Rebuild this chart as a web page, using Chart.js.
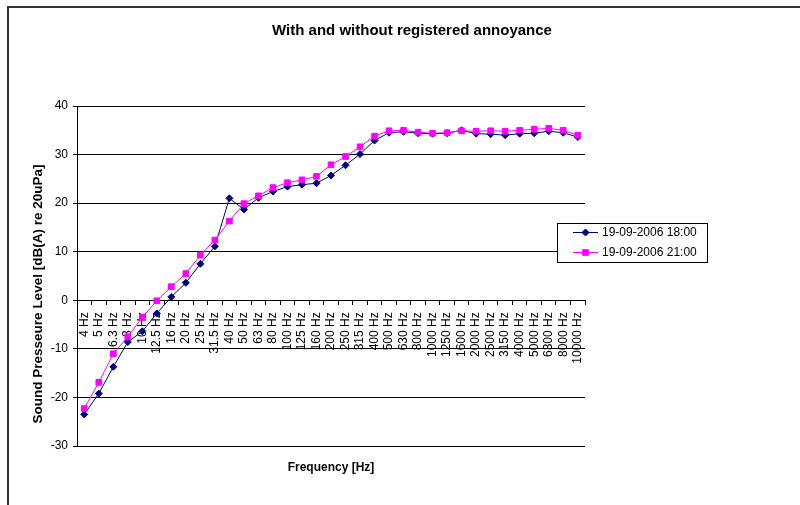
<!DOCTYPE html>
<html>
<head>
<meta charset="utf-8">
<style>
  body { margin: 0; overflow: hidden; background: #fff; }
  #wrap { position: relative; width: 800px; height: 505px; overflow: hidden; }
  canvas { display: block; }
  #frame {
    position: absolute; left: 7px; top: 6px; width: 1000px; height: 1000px;
    border-left: 2px solid #333; border-top: 2px solid #333; pointer-events: none;
  }
</style>
</head>
<body>
<div id="wrap">
  <canvas id="chart" width="824" height="505"></canvas>
  <div id="frame"></div>
</div>

<script src="https://cdn.jsdelivr.net/npm/chart.js"></script>

<script>
  const freqLabels = ['4 Hz', '5 Hz', '6.3 Hz', '8 Hz', '10 Hz', '12.5 Hz', '16 Hz', '20 Hz', '25 Hz', '31.5 Hz',
    '40 Hz', '50 Hz', '63 Hz', '80 Hz', '100 Hz', '125 Hz', '160 Hz', '200 Hz', '250 Hz', '315 Hz',
    '400 Hz', '500 Hz', '630 Hz', '800 Hz', '1000 Hz', '1250 Hz', '1600 Hz', '2000 Hz', '2500 Hz', '3150 Hz',
    '4000 Hz', '5000 Hz', '6300 Hz', '8000 Hz', '10000 Hz'];

  const level1800 = [-23.5, -19.2, -13.7, -8.6, -6.4, -2.7, 0.7, 3.6, 7.5, 11.1,
    21.0, 18.7, 21.1, 22.4, 23.4, 23.8, 24.1, 25.7, 27.8, 30.1,
    32.9, 34.5, 34.7, 34.4, 34.3, 34.4, 35.0, 34.3, 34.2, 34.0,
    34.3, 34.4, 34.8, 34.5, 33.6];

  const level2100 = [-22.3, -16.9, -11.0, -7.5, -3.5, -0.1, 2.8, 5.5, 9.3, 12.4,
    16.3, 19.9, 21.5, 23.2, 24.2, 24.8, 25.5, 27.9, 29.6, 31.6,
    33.8, 34.9, 35.0, 34.6, 34.4, 34.5, 34.9, 34.8, 34.9, 34.8,
    35.0, 35.2, 35.4, 35.0, 34.0];

  const seriesNames = ['19-09-2006 18:00', '19-09-2006 21:00'];
  const yTicks = { min: -30, max: 40, step: 10 };

  const FONT = "'Liberation Sans', Arial, sans-serif";
  Chart.defaults.font.family = FONT;
  Chart.defaults.font.size = 12;
  Chart.defaults.color = '#000';

  // y axis title and the boxed legend sitting over the plot, like the Excel original
  const excelBits = {
    id: 'excelBits',
    afterDraw(chart) {
      const c = chart.ctx;
      c.save();
      c.translate(38, 294);
      c.rotate(-Math.PI / 2);
      c.font = 'bold 13.5px ' + FONT;
      c.fillStyle = '#000';
      c.textAlign = 'center';
      c.textBaseline = 'middle';
      c.fillText('Sound Presseure Level [dB(A) re 20uPa]', 0, 0);
      c.restore();

      c.save();
      c.fillStyle = '#fff';
      c.strokeStyle = '#000';
      c.lineWidth = 1;
      c.fillRect(557.5, 223.5, 150, 39);
      c.strokeRect(557.5, 223.5, 150, 39);
      chart.data.datasets.forEach((ds, i) => {
        const y = Math.round(232 + i * 19.5) + 0.5;
        c.strokeStyle = ds.borderColor;
        c.lineWidth = 1;
        c.beginPath();
        c.moveTo(573, y);
        c.lineTo(598, y);
        c.stroke();
        c.fillStyle = ds.pointBackgroundColor;
        c.strokeStyle = ds.pointBorderColor;
        Chart.helpers.drawPoint(c, { pointStyle: ds.pointStyle, radius: ds.pointRadius, rotation: 0, borderWidth: 1 }, 585.5, y);
        c.fillStyle = '#000';
        c.font = '12px ' + FONT;
        c.textAlign = 'left';
        c.textBaseline = 'middle';
        c.fillText(ds.label, 602, y);
      });
      c.restore();
    }
  };

  new Chart(document.getElementById('chart'), {
    type: 'line',
    data: {
      labels: freqLabels,
      datasets: [{
        label: seriesNames[0],
        data: level1800,
        borderColor: '#000080',
        backgroundColor: '#000080',
        pointBackgroundColor: '#000080',
        pointBorderColor: '#000080',
        pointStyle: 'rectRot',
        pointRadius: 3.5,
        pointBorderWidth: 1,
        borderWidth: 1,
        tension: 0,
        order: 1
      }, {
        label: seriesNames[1],
        data: level2100,
        borderColor: '#FF00FF',
        backgroundColor: '#FF00FF',
        pointBackgroundColor: '#FF00FF',
        pointBorderColor: '#FF00FF',
        pointStyle: 'rect',
        pointRadius: 4,
        pointBorderWidth: 1,
        borderWidth: 1,
        tension: 0,
        order: 0
      }]
    },
    options: {
      responsive: false,
      animation: false,
      layout: { padding: { left: 0, right: 0, top: 0, bottom: 30.6 } },
      plugins: {
        legend: { display: false },
        tooltip: { enabled: false },
        title: {
          display: true,
          text: 'With and without registered annoyance',
          color: '#000',
          font: { size: 15, weight: 'bold' },
          padding: { top: 21.8, bottom: 66.2 }
        }
      },
      scales: {
        x: {
          type: 'category',
          position: { y: 0 },
          offset: true,
          grid: { offset: true, drawOnChartArea: false, drawTicks: true, tickLength: 4, color: '#000' },
          border: { color: '#000', width: 1 },
          ticks: { autoSkip: false, minRotation: 90, maxRotation: 90, padding: 8, color: '#000', font: { size: 12 } }
        },
        xt: {
          type: 'category',
          labels: freqLabels,
          position: 'bottom',
          grid: { display: false, drawTicks: false },
          border: { display: false },
          ticks: { display: false },
          title: {
            display: true,
            text: 'Frequency [Hz]',
            color: '#000',
            font: { size: 12, weight: 'bold' },
            padding: { top: 14, bottom: 0 }
          }
        },
        y: {
          position: 'left',
          min: yTicks.min,
          max: yTicks.max,
          grid: { color: '#000', lineWidth: 1, tickLength: 4 },
          border: { color: '#000', width: 1 },
          ticks: { stepSize: yTicks.step, padding: 5, color: '#000', font: { size: 12 } },
          afterFit(scale) { scale.width = 77; }
        },
        yRight: {
          position: 'right',
          display: true,
          grid: { display: false, drawTicks: false },
          border: { display: false },
          ticks: { display: false },
          afterFit(scale) { scale.width = 239; }
        }
      }
    },
    plugins: [excelBits]
  });
</script>
</body>
</html>
